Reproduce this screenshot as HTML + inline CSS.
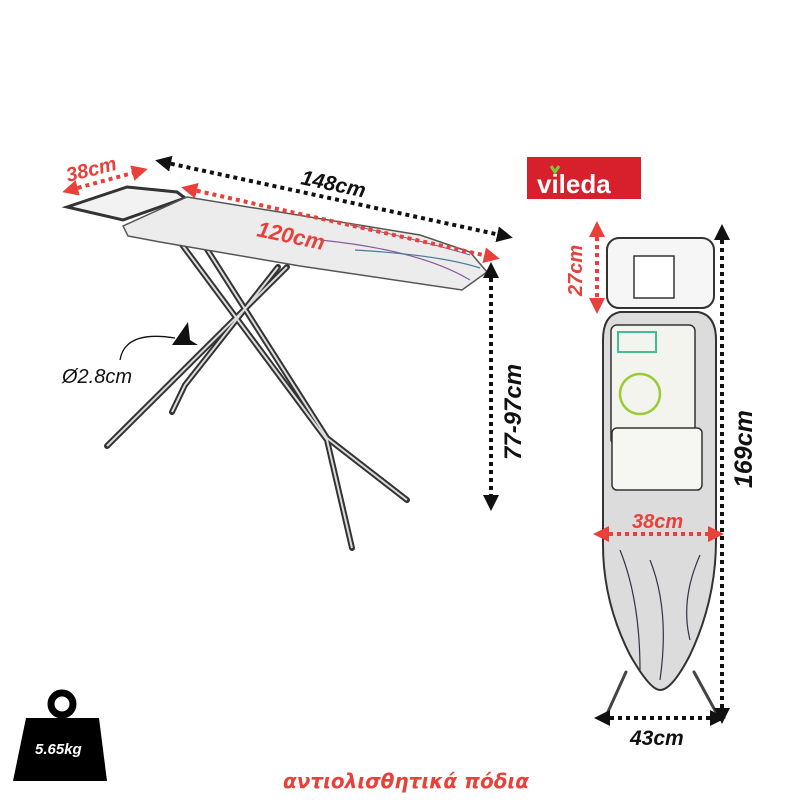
<!DOCTYPE html>
<html><head><meta charset="utf-8"><style>
html,body{margin:0;padding:0;background:#fff;width:800px;height:800px;overflow:hidden}
svg{display:block}
text{font-family:"Liberation Sans",sans-serif;font-style:italic;font-weight:bold}
</style></head><body>
<svg width="800" height="800" viewBox="0 0 800 800">
<defs>
<marker id="ab" viewBox="0 0 10 10" refX="5" refY="5" markerWidth="4" markerHeight="4" orient="auto-start-reverse"><path d="M0,0L10,5L0,10z" fill="#111"/></marker>
<marker id="ar" viewBox="0 0 10 10" refX="5" refY="5" markerWidth="4" markerHeight="4" orient="auto-start-reverse"><path d="M0,0L10,5L0,10z" fill="#e8403a"/></marker>
</defs>
<g stroke="#333" stroke-width="6" fill="none" stroke-linecap="round">
<path d="M180,242 L327,440 L352,548"/>
<path d="M203,243 L327,438 L407,500"/>
<path d="M287,267 L107,446"/>
<path d="M278,267 L185,385 L172,412"/>
</g>
<g stroke="#ddd" stroke-width="2" fill="none">
<path d="M180,242 L327,440 L352,548"/>
<path d="M203,243 L327,438 L407,500"/>
<path d="M287,267 L107,446"/>
<path d="M278,267 L185,385 L172,412"/>
</g>
<path d="M67,207 L127,187 L177,192 L185,198 L123,220 Z" fill="#f2f2f2" stroke="#333" stroke-width="3"/>
<path d="M123,226 L187,197 L420,235 L470,252 L487,272 L462,290 L300,266 L160,242 L128,236 Z" fill="#ececec" stroke="#555" stroke-width="1.5"/>
<path d="M320,240 Q420,250 470,280" stroke="#8a5a9a" fill="none" stroke-width="1.2"/>
<path d="M355,250 Q440,255 480,268" stroke="#4a7a9a" fill="none" stroke-width="1.2"/>
<path d="M350,225 Q420,240 470,255" stroke="#7a5a8a" fill="none" stroke-width="1"/>
<line x1="163" y1="162" x2="505" y2="236" stroke="#111" stroke-width="4" stroke-dasharray="4,4" marker-start="url(#ab)" marker-end="url(#ab)"/>
<line x1="189" y1="189" x2="492" y2="257" stroke="#e8403a" stroke-width="4" stroke-dasharray="4,4" marker-start="url(#ar)" marker-end="url(#ar)"/>
<line x1="70" y1="190" x2="140" y2="171" stroke="#e8403a" stroke-width="4" stroke-dasharray="4,4" marker-start="url(#ar)" marker-end="url(#ar)"/>
<line x1="491" y1="270" x2="491" y2="503" stroke="#111" stroke-width="4" stroke-dasharray="4,4" marker-start="url(#ab)" marker-end="url(#ab)"/>
<text x="300" y="184" font-size="21" fill="#111" transform="rotate(12 300 184)">148cm</text>
<text x="256" y="236" font-size="22" fill="#e8403a" transform="rotate(12 256 236)">120cm</text>
<text x="68" y="182" font-size="20" fill="#e8403a" transform="rotate(-14 68 182)">38cm</text>
<text x="521" y="460" font-size="24" fill="#111" transform="rotate(-90 521 460)">77-97cm</text>
<text x="62" y="383" font-size="20" fill="#111" style="font-weight:normal">Ø2.8cm</text>
<path d="M120,360 Q125,330 175,338" stroke="#111" fill="none" stroke-width="1.3"/>
<path d="M172,345 L188,322 L190,340 L198,345 Z" fill="#111"/>
<rect x="527" y="157" width="114" height="42" fill="#d8202c"/>
<text x="537" y="193" font-size="26" fill="#fff" style="font-style:normal">vileda</text>
<path d="M551,166 l4,6 l4,-6" stroke="#7c3" stroke-width="3" fill="none"/>
<g stroke="#444" stroke-width="3" stroke-linecap="round"><line x1="626" y1="672" x2="607" y2="714"/><line x1="694" y1="672" x2="717" y2="714"/></g>
<rect x="607" y="238" width="107" height="70" rx="12" fill="#f6f6f6" stroke="#333" stroke-width="2"/>
<rect x="634" y="256" width="40" height="42" fill="#fff" stroke="#333" stroke-width="1.5"/>
<path d="M620,312 Q603,315 603,340 L603,540 Q602,600 630,655 Q650,690 660,690 Q672,690 690,655 Q716,600 716,540 L716,340 Q716,315 698,312 Z" fill="#dcdcdc" stroke="#333" stroke-width="2"/>
<rect x="611" y="325" width="84" height="120" rx="6" fill="#f4f4ee" stroke="#333" stroke-width="1.5"/>
<rect x="612" y="428" width="90" height="62" rx="5" fill="#f6f6f2" stroke="#333" stroke-width="1.5"/>
<circle cx="640" cy="394" r="20" fill="none" stroke="#9c3" stroke-width="2.5"/>
<rect x="618" y="332" width="38" height="20" fill="none" stroke="#4b9" stroke-width="2"/>
<path d="M620,550 Q640,600 640,670 M650,560 Q670,610 660,680 M700,555 Q680,600 690,640" stroke="#334" fill="none" stroke-width="1.2"/>
<line x1="722" y1="232" x2="722" y2="716" stroke="#111" stroke-width="4" stroke-dasharray="4,4" marker-start="url(#ab)" marker-end="url(#ab)"/>
<line x1="602" y1="718" x2="718" y2="718" stroke="#111" stroke-width="4" stroke-dasharray="4,4" marker-start="url(#ab)" marker-end="url(#ab)"/>
<line x1="601" y1="534" x2="716" y2="534" stroke="#e8403a" stroke-width="4" stroke-dasharray="4,4" marker-start="url(#ar)" marker-end="url(#ar)"/>
<line x1="597" y1="229" x2="597" y2="306" stroke="#e8403a" stroke-width="4" stroke-dasharray="4,4" marker-start="url(#ar)" marker-end="url(#ar)"/>
<text x="632" y="528" font-size="20" fill="#e8403a">38cm</text>
<text x="630" y="745" font-size="21" fill="#111">43cm</text>
<text x="752" y="488" font-size="25" fill="#111" transform="rotate(-90 752 488)">169cm</text>
<text x="582" y="296" font-size="20" fill="#e8403a" transform="rotate(-90 582 296)">27cm</text>
<circle cx="62" cy="704" r="11" fill="none" stroke="#000" stroke-width="7"/>
<path d="M26,718 L99,718 L107,781 L13,781 Z" fill="#000"/>
<text x="35" y="754" font-size="15" fill="#fff">5.65kg</text>
<text x="283" y="788" font-size="20" fill="#e8403a" style="font-family:'DejaVu Sans',sans-serif">αντιολισθητικά πόδια</text>
</svg>
</body></html>
